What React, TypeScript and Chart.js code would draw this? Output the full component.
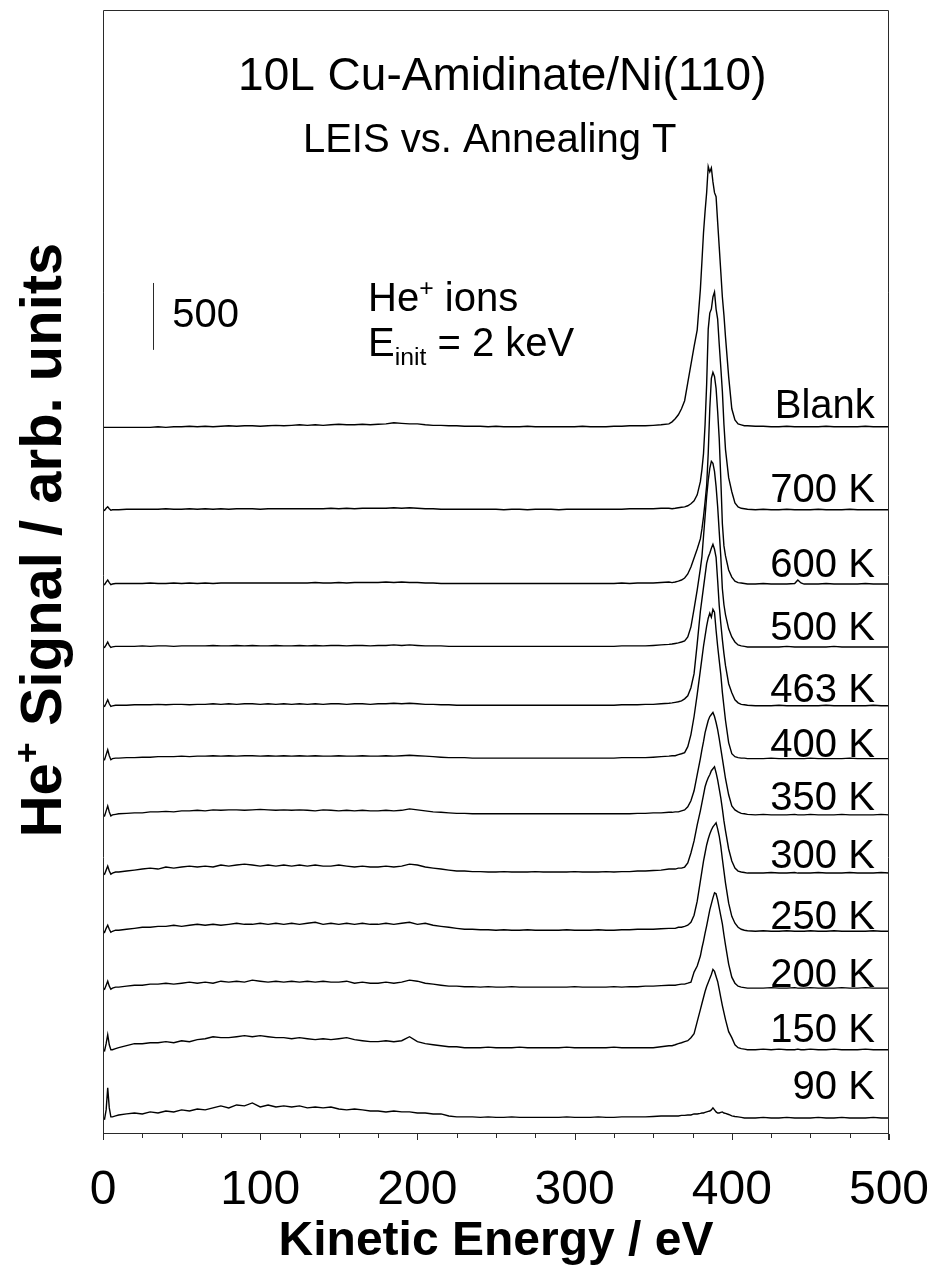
import React, { useEffect, useRef } from "react";
import { Chart, registerables } from "chart.js";

Chart.register(...registerables);

const FONT = '"Liberation Sans", Arial, Helvetica, sans-serif';

// Kinetic energy grid (eV)
const energies = [
  0, 1, 2, 3, 4, 5, 6, 8,
  10, 15, 20, 25, 30, 35, 40, 45, 50, 55, 60,
  65, 70, 75, 80, 85, 90, 95, 100, 105, 110, 115,
  120, 125, 130, 135, 140, 145, 150, 155, 160, 165, 170,
  175, 180, 185, 190, 195, 200, 205, 210, 215, 220, 225,
  230, 235, 240, 245, 250, 255, 260, 265, 270, 275, 280,
  285, 290, 295, 300, 305, 310, 315, 320, 325, 330, 335,
  340, 345, 350, 355, 360,
  362, 364, 366, 368, 370, 372, 374, 376, 378,
  380, 381, 382, 383, 384, 385, 386, 387, 388, 389, 390, 391, 392, 393, 394, 395, 396,
  398, 400, 402, 404, 406, 408, 410,
  415, 420, 425, 430, 435, 440, 442, 444, 446,
  450, 455, 460, 465, 470, 475, 480, 485, 490, 495, 500,
];

// He+ signal (counts above each trace's own baseline)
const blank = [
  -4, -4, -4, -4, -4, -4, -4, -4,
  -4, -4, -4, -4, -4, 0, -4, 0, 0, 4, 0,
  4, 0, 4, 8, 4, 8, 8, 4, 8, 11, 8,
  11, 15, 11, 15, 11, 15, 19, 15, 15, 19, 15,
  19, 22, 30, 26, 22, 22, 15, 11, 11, 8, 8,
  4, 4, 4, 0, 4, 0, 0, 0, 4, 0, 0,
  0, 0, 0, 0, 4, 0, 0, 0, 4, 4, 8,
  8, 8, 11, 15, 22,
  37, 60, 90, 135, 195, 330, 465, 600, 725,
  1025, 1235, 1450, 1610, 1750, 1945, 1905, 1935, 1830, 1750, 1720, 1530, 1345, 1160, 970, 835, 670,
  375, 135, 52, 22, 15, 8, 8,
  4, 4, 0, 0, 4, 0, 0, 0, 0,
  0, 0, 4, 0, 0, 0, 0, 4, 0, 0, 0,
];

const k700 = [
  0, -4, 11, 22, 8, -4, 0, 0,
  0, 4, 4, 4, 4, 4, 8, 4, 4, 8, 4,
  8, 4, 8, 4, 8, 8, 8, 4, 8, 8, 8,
  8, 8, 8, 8, 8, 11, 8, 11, 8, 11, 11,
  11, 11, 15, 11, 15, 11, 8, 8, 4, 4, 4,
  4, 4, 4, 4, 4, 0, 4, 4, 0, 4, 4,
  4, 0, 4, 4, 4, 4, 4, 4, 4, 4, 8,
  8, 8, 8, 11, 11,
  8, 11, 15, 19, 22, 30, 45, 67, 112,
  210, 300, 420, 637, 937, 1350, 1470, 1500, 1590, 1627, 1500, 1425, 1237, 1065, 885, 637, 450,
  240, 135, 52, 22, 11, 8, 4,
  0, 4, 0, 0, 4, 0, 0, 0, 0,
  0, 4, 0, 0, 0, 4, 0, 0, 0, 0, 0,
];

const k600 = [
  0, -4, 15, 30, 11, -4, 0, 4,
  4, 4, 4, 4, 8, 4, 4, 8, 4, 8, 4,
  8, 4, 8, 8, 8, 8, 8, 8, 8, 8, 8,
  8, 8, 8, 11, 8, 8, 11, 8, 11, 11, 11,
  11, 15, 11, 15, 11, 11, 8, 8, 4, 4, 4,
  4, 4, 4, 4, 4, 4, 4, 4, 4, 4, 4,
  4, 4, 4, 4, 4, 4, 4, 4, 4, 8, 4,
  8, 8, 8, 11, 15,
  11, 15, 22, 30, 45, 75, 127, 195, 262,
  337, 412, 502, 615, 735, 975, 1312, 1537, 1582, 1552, 1462, 1290, 1087, 787, 450, 285, 210,
  105, 52, 22, 11, 8, 4, 0,
  0, 4, 0, 0, 0, 4, 30, 8, 0,
  0, 0, 4, 0, 0, 0, 0, 4, 0, 0, 0,
];

const k500 = [
  0, -4, 15, 37, 11, -4, 0, 4,
  4, 4, 4, 8, 4, 8, 8, 4, 8, 8, 8,
  8, 11, 8, 8, 11, 8, 11, 8, 8, 11, 8,
  8, 11, 8, 11, 8, 11, 11, 8, 11, 11, 8,
  11, 11, 15, 11, 15, 11, 8, 8, 8, 4, 4,
  4, 4, 4, 4, 4, 4, 4, 4, 4, 4, 4,
  4, 4, 4, 4, 4, 4, 4, 4, 4, 8, 8,
  8, 8, 11, 15, 19,
  22, 26, 30, 37, 45, 75, 150, 285, 427,
  585, 675, 825, 975, 1125, 1245, 1335, 1387, 1372, 1312, 1200, 1050, 862, 675, 435, 315, 240,
  135, 75, 37, 15, 8, 4, 0,
  0, 0, 0, 0, 4, 0, 0, 0, 0,
  0, 0, 0, 4, 0, 0, 0, 0, 0, 0, 0,
];

const k463 = [
  0, -4, 19, 45, 15, -4, 0, 4,
  4, 4, 8, 8, 8, 11, 8, 11, 11, 8, 11,
  11, 15, 11, 15, 11, 15, 15, 11, 15, 11, 15,
  11, 15, 11, 15, 11, 15, 15, 11, 15, 15, 11,
  15, 15, 19, 15, 19, 15, 11, 11, 8, 8, 4,
  4, 4, 4, 4, 4, 4, 4, 4, 4, 4, 4,
  4, 4, 4, 4, 4, 4, 4, 4, 4, 8, 8,
  8, 11, 11, 15, 19,
  22, 26, 30, 37, 52, 75, 135, 240, 465,
  705, 795, 885, 975, 1065, 1110, 1140, 1177, 1207, 1170, 1110, 937, 750, 615, 495, 390, 300,
  165, 97, 45, 22, 11, 8, 4,
  0, 0, 0, 4, 0, 0, 0, 0, 0,
  0, 0, 4, 0, 0, 0, 0, 0, 4, 0, 0,
];

const k400 = [
  0, -8, 30, 67, 22, -8, 0, 4,
  4, 8, 8, 11, 11, 15, 15, 15, 19, 15, 19,
  19, 22, 19, 22, 19, 22, 22, 19, 22, 19, 22,
  19, 22, 19, 22, 19, 19, 22, 19, 19, 22, 19,
  19, 22, 19, 22, 26, 22, 19, 15, 11, 8, 8,
  8, 4, 4, 4, 4, 4, 4, 4, 4, 4, 4,
  4, 4, 4, 4, 4, 4, 4, 4, 4, 8, 8,
  8, 8, 11, 15, 19,
  22, 22, 30, 37, 45, 90, 180, 315, 480,
  660, 750, 840, 915, 990, 1050, 1087, 1057, 1117, 1095, 960, 840, 735, 630, 495, 390, 285,
  120, 37, 15, 8, 4, 4, 0,
  0, 0, 4, 0, 0, 0, 0, 0, 0,
  4, 0, 0, 0, 0, 4, 0, 0, 0, 0, 0,
];

const k350 = [
  0, -8, 30, 67, 22, -8, 0, 4,
  8, 11, 15, 15, 22, 22, 26, 22, 30, 30, 34,
  30, 37, 34, 37, 37, 34, 37, 41, 37, 34, 37,
  34, 37, 34, 30, 37, 34, 30, 34, 30, 34, 30,
  30, 34, 30, 34, 45, 37, 30, 22, 19, 15, 11,
  11, 8, 8, 8, 8, 8, 8, 8, 8, 8, 8,
  8, 8, 8, 8, 8, 8, 8, 8, 8, 8, 8,
  11, 11, 15, 15, 19,
  19, 22, 22, 30, 37, 60, 105, 180, 300,
  420, 487, 547, 615, 660, 705, 735, 750, 765, 735, 690, 637, 570, 495, 420, 345, 270,
  150, 67, 37, 22, 11, 8, 4,
  0, 4, 0, 0, 0, 4, 0, 0, 0,
  4, 0, 0, 0, 4, 0, 0, 0, 0, 4, 0,
];

const k300 = [
  0, -8, 22, 52, 15, -8, 0, 8,
  8, 15, 22, 30, 37, 30, 45, 37, 45, 52, 45,
  52, 45, 60, 52, 60, 67, 60, 52, 60, 52, 60,
  52, 60, 52, 60, 52, 52, 60, 52, 45, 52, 45,
  45, 52, 45, 52, 67, 60, 45, 37, 30, 22, 15,
  15, 11, 11, 8, 8, 11, 8, 8, 8, 11, 8,
  8, 8, 8, 11, 8, 8, 8, 11, 8, 11, 11,
  15, 15, 19, 22, 30,
  30, 30, 37, 37, 45, 75, 150, 240, 360,
  465, 525, 585, 645, 682, 712, 735, 765, 780, 795, 750, 697, 630, 562, 480, 390, 315,
  180, 90, 37, 15, 8, 4, 0,
  0, 0, 4, 0, 0, 4, 0, 0, 0,
  0, 4, 0, 0, 0, 4, 0, 0, 0, 4, 0,
];

const k250 = [
  0, -8, 22, 45, 15, -8, 0, 8,
  8, 15, 22, 30, 30, 37, 37, 45, 37, 45, 52,
  45, 52, 45, 52, 60, 52, 52, 60, 52, 60, 52,
  60, 52, 60, 67, 52, 60, 52, 60, 52, 60, 52,
  52, 60, 52, 60, 67, 52, 60, 45, 37, 30, 22,
  15, 15, 11, 11, 8, 11, 8, 8, 11, 8, 8,
  8, 8, 11, 8, 8, 8, 11, 8, 8, 11, 11,
  15, 15, 15, 19, 22,
  22, 22, 30, 30, 37, 45, 67, 120, 225,
  375, 450, 525, 585, 645, 690, 727, 757, 780, 795, 810, 765, 712, 637, 540, 450, 360,
  210, 112, 60, 30, 15, 8, 4,
  0, 4, 0, 0, 4, 0, 0, 0, 0,
  4, 0, 0, 4, 0, 0, 0, 0, 4, 0, 0,
];

const k200 = [
  0, -8, 22, 52, 15, -8, 0, 8,
  8, 15, 22, 22, 30, 30, 37, 30, 37, 45, 37,
  45, 37, 52, 45, 52, 45, 60, 52, 45, 52, 45,
  52, 45, 52, 45, 52, 45, 45, 52, 37, 45, 37,
  37, 45, 37, 45, 60, 52, 37, 30, 22, 15, 15,
  11, 11, 8, 11, 8, 8, 11, 8, 8, 8, 8,
  8, 8, 8, 11, 8, 8, 8, 8, 11, 8, 11,
  11, 15, 15, 19, 22,
  22, 22, 26, 30, 30, 37, 45, 120, 165,
  240, 300, 352, 412, 465, 525, 585, 630, 675, 712, 705, 660, 600, 540, 480, 397, 322,
  180, 82, 37, 15, 8, 4, 0,
  0, 0, 4, 0, 0, 4, 0, 0, 0,
  4, 0, 0, 0, 4, 0, 0, 4, 0, 0, 0,
];

const k150 = [
  0, -8, 45, 112, 37, 0, 0, 8,
  15, 30, 45, 45, 52, 52, 60, 52, 67, 60, 75,
  82, 97, 90, 90, 97, 105, 97, 105, 97, 90, 90,
  82, 90, 82, 75, 82, 75, 82, 90, 75, 67, 60,
  60, 67, 60, 67, 97, 60, 45, 37, 30, 22, 22,
  15, 15, 15, 19, 15, 15, 15, 19, 15, 15, 15,
  15, 15, 19, 15, 15, 15, 15, 15, 19, 15, 15,
  15, 15, 15, 22, 30,
  30, 37, 45, 52, 60, 67, 90, 120, 210,
  300, 345, 390, 435, 472, 502, 532, 562, 600, 585, 547, 510, 450, 390, 330, 277, 225,
  135, 90, 37, 15, 8, 4, 0,
  0, 4, 0, 4, 0, 0, 4, 0, 0,
  4, 0, 0, 4, 0, 0, 0, 4, 0, 0, 0,
];

const k90 = [
  0, -8, 60, 225, 75, 8, 8, 15,
  22, 30, 37, 30, 45, 37, 52, 45, 60, 52, 67,
  60, 75, 90, 75, 97, 90, 112, 82, 97, 82, 90,
  82, 90, 75, 82, 75, 82, 67, 60, 67, 60, 52,
  52, 45, 52, 45, 45, 37, 37, 30, 30, 15, 8,
  8, 8, 4, 8, 4, 4, 8, 4, 4, 4, 4,
  4, 4, 8, 4, 4, 4, 8, 4, 4, 8, 8,
  8, 8, 11, 15, 15,
  15, 15, 15, 19, 19, 22, 22, 30, 30,
  34, 37, 37, 41, 45, 49, 52, 60, 75, 60, 45, 37, 37, 41, 45, 37, 34,
  26, 15, 11, 8, 4, 0, 0,
  0, 4, 0, 0, 4, 0, 0, 0, 0,
  0, 4, 0, 0, 4, 0, 0, 0, 4, 0, 0,
];

const traceNames = ["Blank", "700 K", "600 K", "500 K", "463 K", "400 K", "350 K", "300 K", "250 K", "200 K", "150 K", "90 K"];
const traceValues = [blank, k700, k600, k500, k463, k400, k350, k300, k250, k200, k150, k90];
// vertical offset of each spectrum in the stack (counts)
const traceOffsets = [5285, 4665, 4110, 3640, 3200, 2805, 2385, 1950, 1515, 1090, 630, 120];
// baseline (counts) of each trace's label
const labelLevels = [5351, 4723, 4163, 3692, 3229, 2818, 2422, 1988, 1532, 1099, 688, 262];
const labelEnergy = 491;

const xTickLabels = [0, 100, 200, 300, 400, 500];
const xMinorStep = 25;
const xMin = 0;
const xMax = 500;
const yMin = 0;
const yMax = 8400;

// scale bar (500 counts)
const scaleBarEnergy = 32;
const scaleBarBase = 5860;
const scaleBarLength = 500;

function drawSup(ctx: CanvasRenderingContext2D, parts: { t: string; mode: "n" | "sup" | "sub" }[], x: number, y: number, size: number, bold: boolean, align: "left" | "center") {
  const w = parts.map((p) => {
    const s = p.mode === "n" ? size : size * 0.62;
    ctx.font = `${bold ? "bold " : ""}${s}px ${FONT}`;
    return ctx.measureText(p.t).width;
  });
  const total = w.reduce((a, b) => a + b, 0);
  let cx = align === "center" ? x - total / 2 : x;
  parts.forEach((p, i) => {
    const s = p.mode === "n" ? size : size * 0.62;
    ctx.font = `${bold ? "bold " : ""}${s}px ${FONT}`;
    const dy = p.mode === "sup" ? -size * 0.38 : p.mode === "sub" ? size * 0.22 : 0;
    ctx.fillText(p.t, cx, y + dy);
    cx += w[i];
  });
}

const decorPlugin = {
  id: "decor",
  afterDatasetsDraw(chart: any) {
    const { ctx, chartArea: ca, scales } = chart;
    const xs = scales.x;
    const ys = scales.y;
    ctx.save();
    // frame
    ctx.strokeStyle = "#2a2a2a";
    ctx.lineWidth = 1;
    ctx.beginPath();
    ctx.moveTo(ca.left + 0.5, ca.bottom + 6);
    ctx.lineTo(ca.left + 0.5, ca.top + 0.5);
    ctx.lineTo(ca.right - 0.5, ca.top + 0.5);
    ctx.lineTo(ca.right - 0.5, ca.bottom + 6);
    ctx.moveTo(ca.left, ca.bottom - 0.5);
    ctx.lineTo(ca.right, ca.bottom - 0.5);
    ctx.stroke();
    // ticks
    ctx.beginPath();
    for (let v = xMin; v <= xMax; v += xMinorStep) {
      const px = Math.round(xs.getPixelForValue(v)) + 0.5;
      const len = v % 100 === 0 ? 6 : 4;
      ctx.moveTo(px, ca.bottom);
      ctx.lineTo(px, ca.bottom + len);
    }
    ctx.stroke();

    ctx.fillStyle = "#000";
    // tick labels
    ctx.font = `48px ${FONT}`;
    ctx.textAlign = "center";
    ctx.textBaseline = "alphabetic";
    xTickLabels.forEach((v) => {
      ctx.fillText(String(v), xs.getPixelForValue(v), ca.bottom + 70);
    });
    // x title
    ctx.font = `bold 48px ${FONT}`;
    ctx.fillText("Kinetic Energy / eV", (ca.left + ca.right) / 2, ca.bottom + 121);

    // y title
    ctx.save();
    ctx.translate(61, 540);
    ctx.rotate(-Math.PI / 2);
    ctx.textAlign = "left";
    drawSup(ctx, [{ t: "He", mode: "n" }, { t: "+", mode: "sup" }, { t: " Signal / arb. units", mode: "n" }], 0, 0, 58, true, "center");
    ctx.restore();

    // titles
    ctx.textAlign = "center";
    ctx.font = `46px ${FONT}`;
    ctx.fillText("10L Cu-Amidinate/Ni(110)", xs.getPixelForValue(254), ys.getPixelForValue(7803));
    ctx.font = `40px ${FONT}`;
    ctx.fillText("LEIS vs. Annealing T", xs.getPixelForValue(246), ys.getPixelForValue(7340));

    // scale bar
    ctx.beginPath();
    const sx = Math.round(xs.getPixelForValue(scaleBarEnergy)) + 0.5;
    ctx.moveTo(sx, ys.getPixelForValue(scaleBarBase));
    ctx.lineTo(sx, ys.getPixelForValue(scaleBarBase + scaleBarLength));
    ctx.stroke();
    ctx.textAlign = "left";
    ctx.font = `40px ${FONT}`;
    ctx.fillText(String(scaleBarLength), xs.getPixelForValue(44), ys.getPixelForValue(6031));

    // ion info
    drawSup(ctx, [{ t: "He", mode: "n" }, { t: "+", mode: "sup" }, { t: " ions", mode: "n" }], xs.getPixelForValue(168.6), ys.getPixelForValue(6151), 40, false, "left");
    drawSup(ctx, [{ t: "E", mode: "n" }, { t: "init", mode: "sub" }, { t: " = 2 keV", mode: "n" }], xs.getPixelForValue(168.6), ys.getPixelForValue(5815), 40, false, "left");

    // trace labels
    ctx.font = `40px ${FONT}`;
    ctx.textAlign = "right";
    traceNames.forEach((name, i) => {
      ctx.fillText(name, xs.getPixelForValue(labelEnergy), ys.getPixelForValue(labelLevels[i]));
    });
    ctx.restore();
  },
};

export default function App() {
  const ref = useRef<HTMLCanvasElement | null>(null);
  useEffect(() => {
    if (!ref.current) return;
    const datasets = traceValues.map((vals, i) => ({
      label: traceNames[i],
      data: energies.map((e, j) => ({ x: e, y: vals[j] + traceOffsets[i] })),
      borderColor: "#000",
      borderWidth: 1.4,
      pointRadius: 0,
      fill: false,
      tension: 0,
    }));
    const chart = new Chart(ref.current, {
      type: "line",
      data: { datasets },
      options: {
        animation: false,
        responsive: false,
        devicePixelRatio: 1,
        layout: { padding: { left: 103, top: 10, right: 41, bottom: 143 } },
        plugins: { legend: { display: false }, tooltip: { enabled: false } },
        scales: {
          x: { type: "linear", min: xMin, max: xMax, display: false },
          y: { type: "linear", min: yMin, max: yMax, display: false },
        },
      },
      plugins: [decorPlugin],
    });
    return () => chart.destroy();
  }, []);
  return (
    <div style={{ position: "fixed", left: 0, top: 0, width: 930, height: 1277, background: "#fff" }}>
      <canvas ref={ref} width={930} height={1277} style={{ display: "block" }} />
    </div>
  );
}
